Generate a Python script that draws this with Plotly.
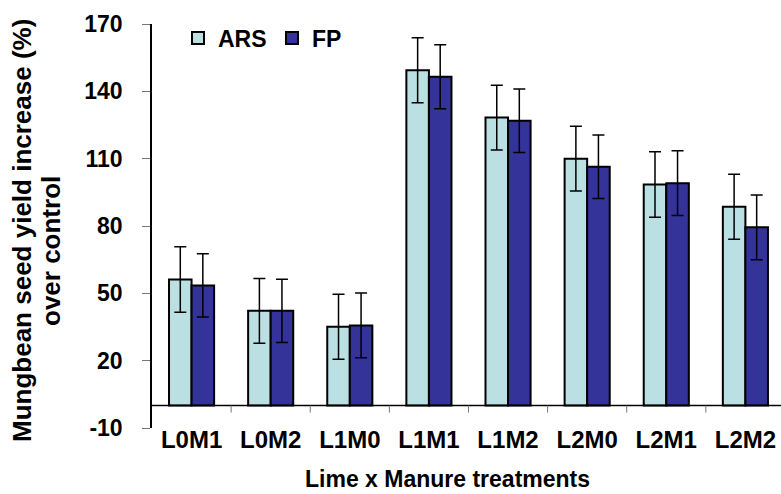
import plotly.graph_objects as go

categories = ["L0M1", "L0M2", "L1M0", "L1M1", "L1M2", "L2M0", "L2M1", "L2M2"]
ars_values = [56.2, 42.2, 35.1, 149.4, 128.3, 110.0, 98.5, 88.6]
fp_values = [53.5, 42.2, 35.7, 146.5, 126.9, 106.4, 99.1, 79.4]
ars_err = [14.6, 14.4, 14.5, 14.5, 14.4, 14.4, 14.6, 14.5]
fp_err = [14.1, 14.1, 14.4, 14.3, 14.1, 14.1, 14.4, 14.4]
y_ticks = [-10, 20, 50, 80, 110, 140, 170]
y_ticktext = ["-10", "20", "50", "80", "110", "140", "170"]

FONT = "Arial, 'Liberation Sans', sans-serif"
W, H = 781, 494
L, R, T, B = 152, 0, 24, 66
pw = W - L - R
ph = H - T - B


def px_x(x):
    return (x - L) / pw


def px_y(y):
    return (H - B - y) / ph


fig = go.Figure()
fig.add_trace(go.Bar(
    name="ARS", x=categories, y=ars_values,
    marker=dict(color="#BBE0E3", line=dict(color="black", width=2)),
    error_y=dict(type="data", array=ars_err, visible=True, color="black", thickness=1.5, width=6),
))
fig.add_trace(go.Bar(
    name="FP", x=categories, y=fp_values,
    marker=dict(color="#333399", line=dict(color="black", width=2)),
    error_y=dict(type="data", array=fp_err, visible=True, color="black", thickness=1.5, width=6),
))

shapes = [dict(type="line", xref="paper", yref="y", x0=0, x1=1, y0=0, y1=0,
               line=dict(color="black", width=1.5))]
for i in range(len(categories)):
    shapes.append(dict(type="line", xref="x", yref="y", ysizemode="pixel", yanchor=0,
                       x0=i + 0.5, x1=i + 0.5, y0=0, y1=-7,
                       line=dict(color="#777777", width=1)))

bold = lambda s: dict(family=FONT, size=s, color="black", weight="bold")

fig.update_layout(
    width=W, height=H,
    margin=dict(l=L, r=R, t=T, b=B),
    paper_bgcolor="white", plot_bgcolor="white",
    barmode="group", bargap=0.43, bargroupgap=0,
    font=dict(family=FONT, size=17, color="black"),
    showlegend=True,
    legend=dict(orientation="h", x=px_x(178), y=px_y(38), xanchor="left", yanchor="middle",
                font=bold(23), bgcolor="rgba(0,0,0,0)", entrywidth=49, entrywidthmode="pixels"),
    xaxis=dict(range=[-0.5, 7.45], showline=False, ticks="", showgrid=False,
               tickfont=bold(24), ticklabelstandoff=-5),
    yaxis=dict(range=[-10, 170], tickvals=y_ticks, ticktext=y_ticktext,
               showgrid=False, zeroline=False,
               showline=True, linecolor="black", linewidth=1.5,
               ticks="outside", ticklen=8, tickcolor="#777777",
               tickfont=bold(23), ticklabelstandoff=15),
    shapes=shapes,
    annotations=[
        dict(text="Lime x Manure treatments", xref="paper", yref="paper",
             x=px_x(447), y=px_y(479), xanchor="center", yanchor="middle",
             showarrow=False, font=bold(23)),
        dict(text="Mungbean seed yield increase (%)", xref="paper", yref="paper",
             x=px_x(22), y=px_y(231), xanchor="center", yanchor="middle",
             textangle=-90, showarrow=False, font=bold(26)),
        dict(text="over control", xref="paper", yref="paper",
             x=px_x(51), y=px_y(251), xanchor="center", yanchor="middle",
             textangle=-90, showarrow=False, font=bold(26)),
    ],
)
fig.write_html("out.html")
